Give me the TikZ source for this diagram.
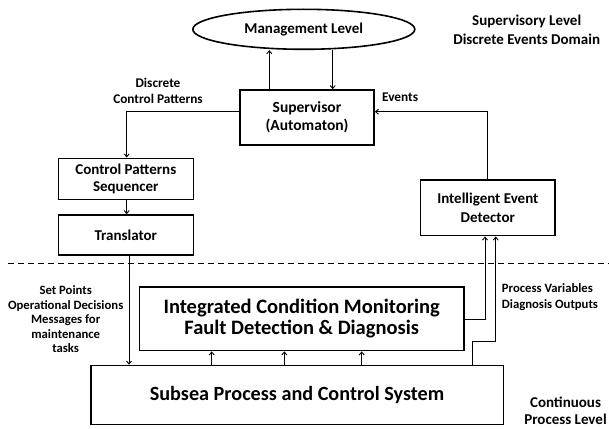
\documentclass[tikz,border=0pt]{standalone}
\usepackage{fontspec}
\setmainfont{Carlito}
\usetikzlibrary{arrows.meta,shapes.geometric}
\begin{document}
\begin{tikzpicture}[x=1pt,y=-1pt,
  box/.style={draw,line width=1.6pt,rectangle,inner sep=0pt,align=center,font=\bfseries\fontsize{15}{18}\selectfont},
  lbl/.style={align=center,inner sep=0pt},
  conn/.style={line width=0.9pt},
  arr/.style={conn,-{Straight Barb[length=3pt,width=5pt]}}]
\useasboundingbox (0,0) rectangle (609,428);
% nodes
\node[draw,ellipse,line width=1.6pt,minimum width=222pt,minimum height=40pt,inner sep=0pt,font=\bfseries\fontsize{15}{18}\selectfont] (mgmt) at (303.8,29.3) {Management Level};
\node[box,minimum width=134pt,minimum height=55pt,font=\bfseries\fontsize{15.5}{18.4}\selectfont] (sup) at (307,117.5) {Supervisor\\(Automaton)};
\node[box,minimum width=135pt,minimum height=41pt,font=\bfseries\fontsize{15}{17.7}\selectfont] (cps) at (125.8,178.8) {Control Patterns\\Sequencer};
\node[box,minimum width=135pt,minimum height=40pt] (tr) at (125.8,235) {Translator};
\node[box,minimum width=134.3pt,minimum height=55.7pt,font=\bfseries\fontsize{15}{18.3}\selectfont] (ied) at (487.8,207.8) {Intelligent Event\\Detector};
\node[box,minimum width=324.7pt,minimum height=63.8pt,font=\bfseries\fontsize{20.5}{21.7}\selectfont] (icm) at (301.7,318.6) {Integrated Condition Monitoring\\Fault Detection \& Diagnosis};
\node[box,minimum width=412.6pt,minimum height=59pt,font=\bfseries\fontsize{20.2}{22}\selectfont] (sub) at (297,395) {Subsea Process and Control System};
% labels
\node[lbl,font=\bfseries\fontsize{15}{19}\selectfont] (supl) at (526.7,29.5) {Supervisory Level\\Discrete Events Domain};
\node[lbl,font=\bfseries\fontsize{13.3}{16}\selectfont] (dcp) at (158,91.3) {Discrete\\Control Patterns};
\node[lbl,font=\bfseries\fontsize{13.3}{16}\selectfont,anchor=east] (ev) at (418.3,97.7) {Events};
\node[lbl,font=\bfseries\fontsize{12.7}{14.5}\selectfont] (sp) at (65.7,319.2) {Set Points\\Operational Decisions\\Messages for\\maintenance\\tasks};
\node[lbl,align=left,anchor=west,font=\bfseries\fontsize{12.7}{15.7}\selectfont] (pv) at (501.7,297.2) {Process Variables\\Diagnosis Outputs};
\node[lbl,font=\bfseries\fontsize{15}{17}\selectfont] (cpl) at (565.5,410.8) {Continuous\\Process Level};
% dashed separator
\coordinate (dl) at (8,263.3);
\coordinate (dr) at (609,263.3);
\draw[conn,dash pattern=on 6pt off 4pt] (dl) -- (dr);
% connectors
\draw[arr] (sup.north -| 269.3,0) -- (mgmt.south -| 269.3,0);
\draw[arr] (mgmt.south -| 332.7,0) -- (sup.north -| 332.7,0);
\coordinate (c1) at (126.7,111.7);
\draw[arr] (sup.west |- c1) -- (c1) -- (cps.north -| c1);
\draw[arr] (cps.south -| c1) -- (tr.north -| c1);
\draw[arr] (tr.south -| 129,0) -- (sub.north -| 129,0);
\coordinate (c2) at (487.3,111.7);
\draw[arr] (ied.north -| c2) -- (c2) -- (sup.east |- c2);
\coordinate (c3) at (485,319.3);
\draw[arr] (icm.east |- c3) -- (c3) -- (ied.south -| c3);
\coordinate (c4) at (472.7,341.7);
\coordinate (c5) at (495.7,341.7);
\draw[arr] (sub.north -| c4) -- (c4) -- (c5) -- (ied.south -| c5);
\foreach \xx in {211.7,284.3,361.7} \draw[arr] (sub.north -| \xx,0) -- (icm.south -| \xx,0);
\end{tikzpicture}
\end{document}
